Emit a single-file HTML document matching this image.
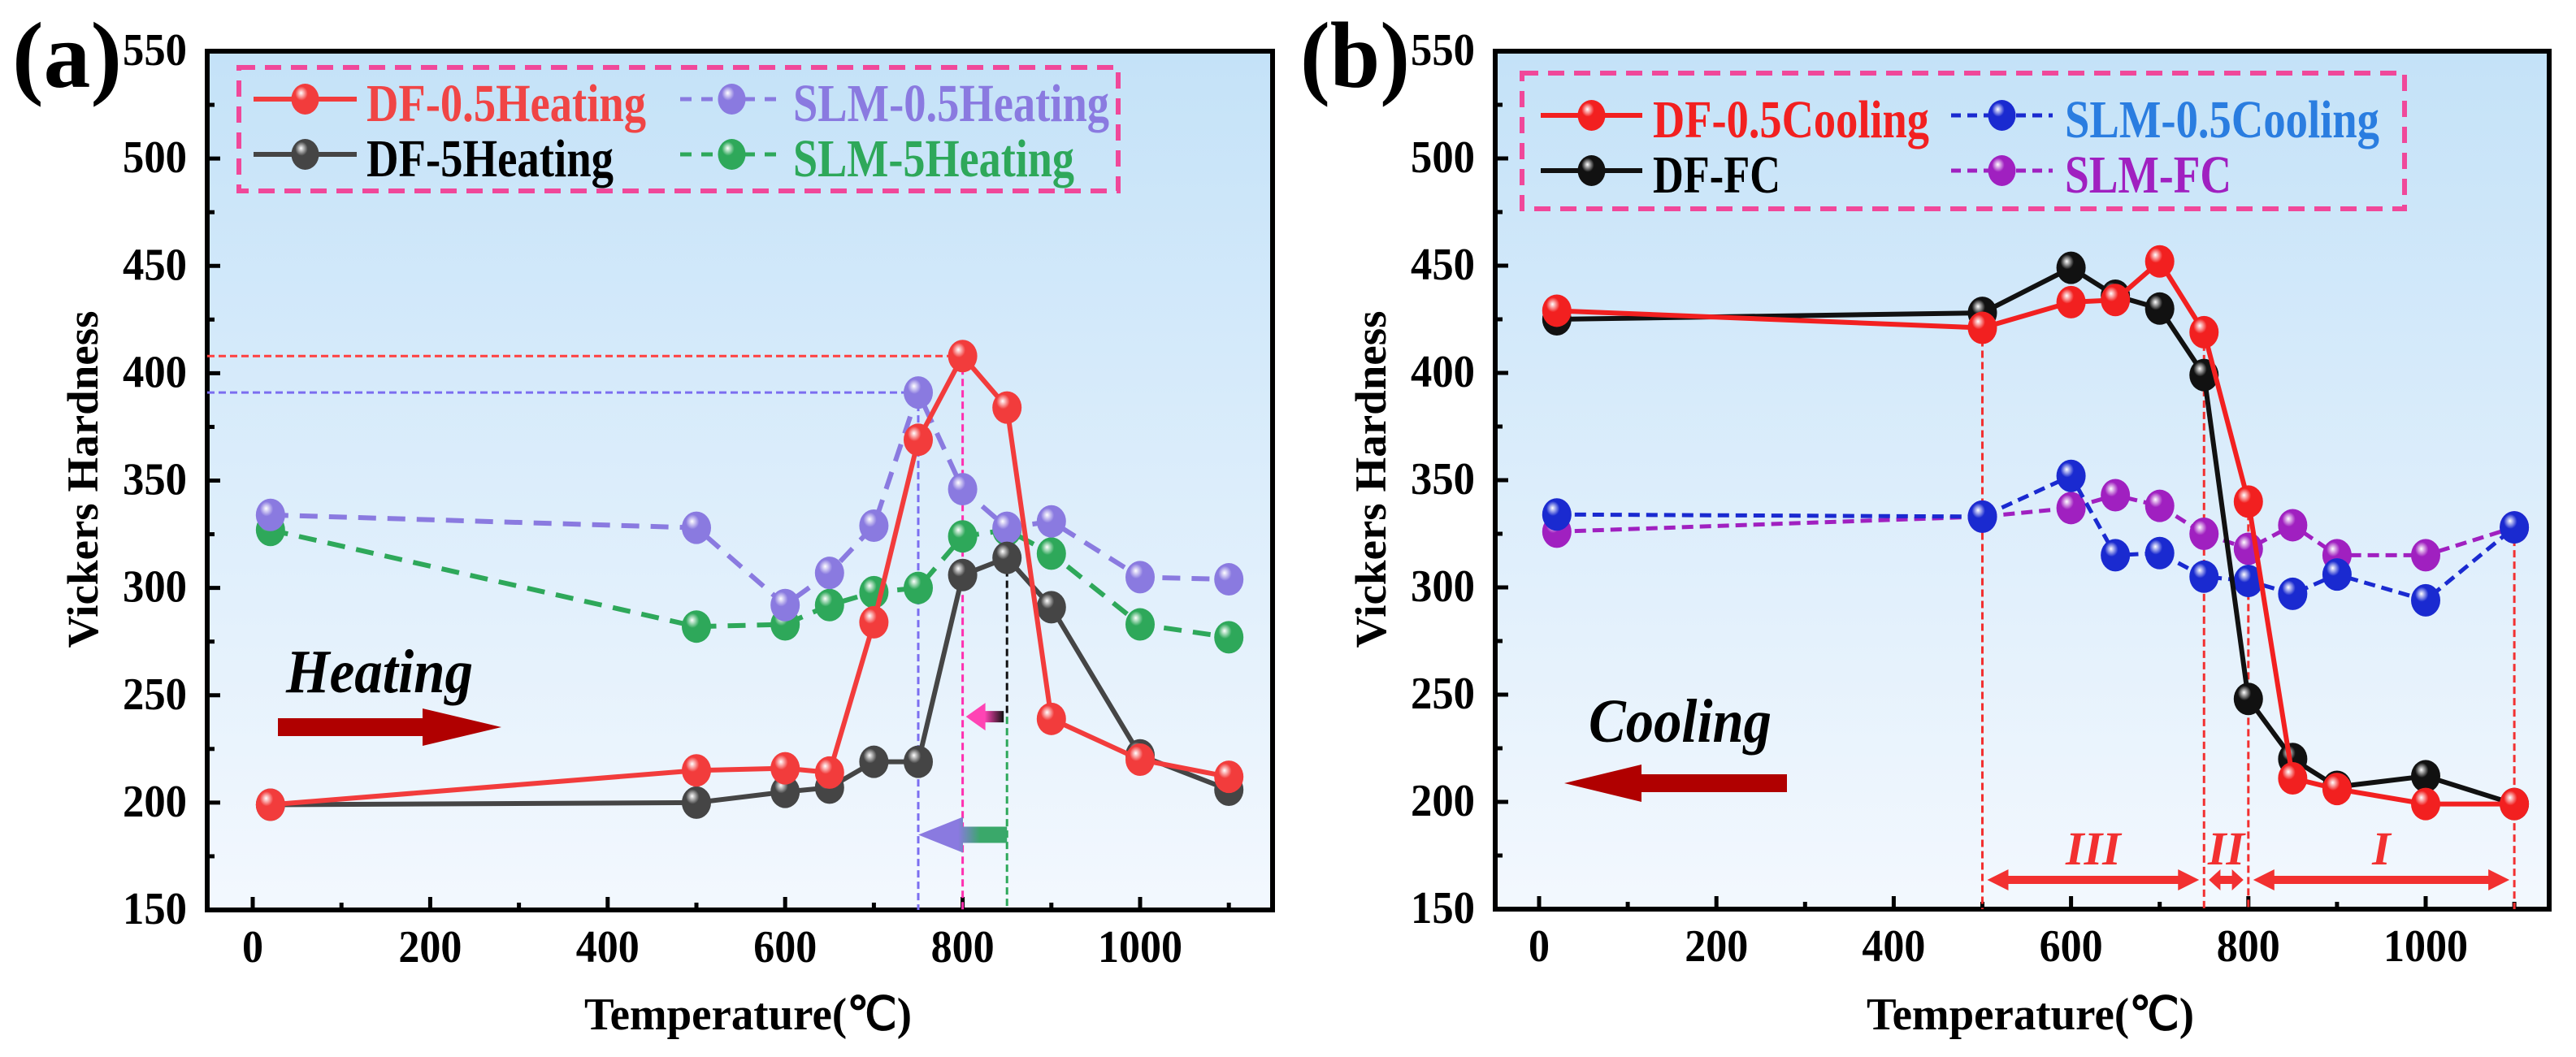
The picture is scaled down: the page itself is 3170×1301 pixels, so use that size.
<!DOCTYPE html>
<html><head><meta charset="utf-8"><style>
html,body{margin:0;padding:0;background:#fff;}
svg{display:block;font-family:"Liberation Serif",serif;font-weight:bold;}
</style></head><body>
<svg id="chart" width="3170" height="1301" viewBox="0 0 3170 1301" xmlns="http://www.w3.org/2000/svg">
<defs>
<linearGradient id="bg" x1="0" y1="0" x2="0" y2="1"><stop offset="0" stop-color="#c4e2f8"/><stop offset="1" stop-color="#f3f8fe"/></linearGradient>
<linearGradient id="gArrowA" x1="0" y1="0" x2="1" y2="0"><stop offset="0" stop-color="#8a7ae0"/><stop offset="0.45" stop-color="#8a7ae0"/><stop offset="0.7" stop-color="#3aa86a"/><stop offset="1" stop-color="#3aa86a"/></linearGradient>
<linearGradient id="pArrowA" x1="0" y1="0" x2="1" y2="0"><stop offset="0" stop-color="#ff44b4"/><stop offset="0.5" stop-color="#ff44b4"/><stop offset="1" stop-color="#111"/></linearGradient>
</defs>
<g id="panelA"></g>
<g id="panelB"></g>
</svg>
<script>
// ---------- DATA ----------
const temps = [20, 500, 600, 650, 700, 750, 800, 850, 900, 1000, 1100];
const xTicks = [0, 200, 400, 600, 800, 1000];
const yTicks = [150, 200, 250, 300, 350, 400, 450, 500, 550];
// Panel (a) heating
const df05Heating = [199, 215, 216, 214, 284, 369, 408, 384, 239, 220, 212];
const df5Heating = [199, 200, 205, 207, 219, 219, 306, 314, 291, 222, 206];
const slm05Heating = [334, 328, 292, 307, 329, 391, 346, 328, 331, 305, 304];
const slm5Heating = [327, 282, 283, 292, 298, 300, 324, 327, 316, 283, 277];
// Panel (b) cooling
const df05Cooling = [429, 421, 433, 434, 452, 419, 340, 211, 206, 199, 199];
const dfFC = [425, 428, 449, 436, 430, 399, 248, 220, 207, 212, 199];
const slm05Cooling = [334, 333, 352, 315, 316, 305, 303, 297, 306, 294, 328];
const slmFC = [326, 333, 337, 343, 338, 325, 318, 329, 315, 315, 328];
const labelsA = ["DF-0.5Heating", "SLM-0.5Heating", "DF-5Heating", "SLM-5Heating"];
const labelsB = ["DF-0.5Cooling", "SLM-0.5Cooling", "DF-FC", "SLM-FC"];
const regionBounds = [500, 750, 800, 1100];
const regionNames = ["III", "II", "I"];

const NS = "http://www.w3.org/2000/svg";
function mk(parent, tag, attrs, text){
  const e = document.createElementNS(NS, tag);
  for (const k in attrs) e.setAttribute(k, attrs[k]);
  if (text !== undefined) e.textContent = text;
  parent.appendChild(e);
  return e;
}
function squeeze(el, len){
  el.setAttribute("textLength", len);
  el.setAttribute("lengthAdjust", "spacingAndGlyphs");
}
let gradCount = 0;
function sphereGrad(color){
  const defs = document.querySelector("defs");
  const id = "sph" + (gradCount++);
  const g = mk(defs, "radialGradient", {id:id, cx:"0.4", cy:"0.35", r:"0.65", fx:"0.35", fy:"0.3"});
  mk(g, "stop", {offset:"0", "stop-color":"#ffffff"});
  mk(g, "stop", {offset:"0.35", "stop-color":color});
  mk(g, "stop", {offset:"1", "stop-color":color});
  return "url(#" + id + ")";
}

function buildPanel(g, P){
  const X = v => P.x0 + (v - 0) / 1000 * (P.x1000 - P.x0);
  const Y = v => P.bottom - (v - 150) / 400 * (P.bottom - P.top);
  P.X = X; P.Y = Y;
  const bg = mk(g, "rect", {x:P.left, y:P.top, width:P.right-P.left, height:P.bottom-P.top, fill:"url(#bg)"});
  
  
  xTicks.forEach(t => {
    const l = mk(g, "line", {x1:X(t), x2:X(t), y1:P.bottom, y2:P.bottom-16, stroke:"#000", "stroke-width":5});
    
    
    const m = mk(g, "line", {x1:X(t+100), x2:X(t+100), y1:P.bottom, y2:P.bottom-9, stroke:"#000", "stroke-width":5});
    
    
    const tx = mk(g, "text", {x:X(t), y:P.bottom+64, "text-anchor":"middle", "font-size":56}, String(t));
    squeeze(tx, String(t).length * 26);
    
    
  });
  yTicks.forEach(t => {
    const l = mk(g, "line", {x1:P.left, x2:P.left+16, y1:Y(t), y2:Y(t), stroke:"#000", "stroke-width":5});
    
    
    if (t < 550){
      const m = mk(g, "line", {x1:P.left, x2:P.left+9, y1:Y(t+25), y2:Y(t+25), stroke:"#000", "stroke-width":5});
      
      
    }
    const tx = mk(g, "text", {x:P.left-25, y:Y(t)+17, "text-anchor":"end", "font-size":56}, String(t));
    squeeze(tx, 79);
    
    
  });
  const fr = mk(g, "rect", {x:P.left, y:P.top, width:P.right-P.left, height:P.bottom-P.top, fill:"none", stroke:"#000", "stroke-width":6});
  
  
  const xt = mk(g, "text", {x:(P.left+P.right)/2+10, y:1267, "text-anchor":"middle", "font-size":56}, "Temperature(\u2103)");
  squeeze(xt, 403);
  
  
  const yt = mk(g, "text", {x:0, y:0, "text-anchor":"middle", "font-size":54, transform:"translate("+(P.left-135)+",590) rotate(-90)"}, "Vickers Hardness");
  squeeze(yt, 415);
  
  
  const pl = mk(g, "text", {x:P.left-240, y:107, "font-size":115}, P.panelLabel);
  squeeze(pl, 135);
  
  
}

function drawSeries(g, P, values, color, dash, width, name, errs){
  const pts = temps.map((t,i) => P.X(t) + "," + P.Y(values[i])).join(" ");
  const line = mk(g, "polyline", {points:pts, fill:"none", stroke:color, "stroke-width":width, "stroke-dasharray":dash || "none", "stroke-linejoin":"round"});
  
  
  const fill = sphereGrad(color);
  temps.forEach((t,i) => {
    const cx = P.X(t), cy = P.Y(values[i]);
    const e = errs ? errs : 6;
    const eb = mk(g, "path", {d:"M"+cx+","+(cy-e*2.6)+"V"+(cy+e*2.6)+"M"+(cx-12)+","+(cy-e*2.6)+"H"+(cx+12)+"M"+(cx-12)+","+(cy+e*2.6)+"H"+(cx+12), stroke:color, "stroke-width":4, fill:"none"});
    
    
    const c = mk(g, "ellipse", {cx:cx, cy:cy, rx:18, ry:20, fill:fill});
    
    
  });
}

function legend(g, box, rows, cols, lineW, textX, entries){
  const b = mk(g, "rect", {x:box[0], y:box[1], width:box[2], height:box[3], fill:"none", stroke:"#f0489a", "stroke-width":6, "stroke-dasharray":"20,12"});
  
  
  entries.forEach((en, k) => {
    const x = cols[k%2], y = rows[Math.floor(k/2)];
    const lg = mk(g, "g", {});
    
    
    mk(lg, "line", {x1:x, x2:x+lineW, y1:y, y2:y, stroke:en.color, "stroke-width":en.dash?5:6, "stroke-dasharray":en.dash||"none"});
    mk(lg, "ellipse", {cx:x+lineW/2, cy:y, rx:17, ry:19, fill:sphereGrad(en.color)});
    const t = mk(lg, "text", {x:textX[k%2], y:y+27, "font-size":66, fill:en.text}, en.label);
    squeeze(t, en.w);
  });
}

// ---------- PANEL A ----------
const gA = document.getElementById("panelA");
const PA = {left:255, right:1566, top:63, bottom:1120, x0:311, x1000:1403, panelLabel:"(a)"};
buildPanel(gA, PA);
(function(){
  const X = PA.X, Y = PA.Y;
  const ref = (d, c, n) => { const p = mk(gA, "path", {d:d, stroke:c, "stroke-width":3, "stroke-dasharray":"9,5", fill:"none"});   };
  ref("M"+PA.left+","+Y(df05Heating[6])+"H"+X(800), "#ff4040", "ref-line-df05-peak");
  ref("M"+PA.left+","+Y(slm05Heating[5])+"H"+X(750), "#7b6ef0", "ref-line-slm05-peak");
  ref("M"+X(750)+","+Y(slm05Heating[5])+"V"+PA.bottom, "#7b6ef0", "ref-vline-750");
  ref("M"+X(800)+","+Y(df05Heating[6])+"V"+PA.bottom, "#ff30b0", "ref-vline-800");
  ref("M"+X(850)+","+Y(df5Heating[7])+"V"+Y(240), "#111", "ref-vline-850-black");
  ref("M"+X(850)+","+Y(240)+"V"+PA.bottom, "#2ea85a", "ref-vline-850-green");
  const a1 = mk(gA, "path", {d:"M"+(X(850)-4)+","+(Y(240)-7)+"H"+(X(800)+28)+"V"+(Y(240)-17)+"L"+(X(800)+4)+","+Y(240)+"L"+(X(800)+28)+","+(Y(240)+17)+"V"+(Y(240)+7)+"H"+(X(850)-4)+"Z", fill:"url(#pArrowA)"});
  
  
  const a2 = mk(gA, "path", {d:"M"+X(850)+","+(Y(185)-10)+"H"+(X(750)+55)+"V"+(Y(185)-22)+"L"+X(750)+","+Y(185)+"L"+(X(750)+55)+","+(Y(185)+22)+"V"+(Y(185)+10)+"H"+X(850)+"Z", fill:"url(#gArrowA)"});
  
  
})();
drawSeries(gA, PA, slm5Heating, "#2ea85a", "22,14", 6, "slm-5-heating", 3);
drawSeries(gA, PA, slm05Heating, "#8a7ae0", "22,14", 6, "slm-05-heating", 3);
drawSeries(gA, PA, df5Heating, "#454545", null, 6, "df-5-heating", 3);
drawSeries(gA, PA, df05Heating, "#f23c3c", null, 6, "df-05-heating", 3);
legend(gA, [294, 83, 1082, 152], [122, 190], [312, 837], 127, [451, 976], [
  {label:labelsA[0], color:"#f23c3c", text:"#f04545", w:344},
  {label:labelsA[1], color:"#8a7ae0", dash:"14,12", text:"#8a7ae0", w:389},
  {label:labelsA[2], color:"#454545", text:"#000", w:304},
  {label:labelsA[3], color:"#2ea85a", dash:"14,12", text:"#2ea85a", w:346}
]);
(function(){
  const t = mk(gA, "text", {x:352, y:852, "font-size":76, "font-style":"italic"}, "Heating");
  squeeze(t, 230);
  
  
  const a = mk(gA, "path", {d:"M342,884H520V872L617,895L520,918V906H342Z", fill:"#b00000"});
  
  
})();

// ---------- PANEL B ----------
const gB = document.getElementById("panelB");
const PB = {left:1840, right:3137, top:63, bottom:1119, x0:1894, x1000:2985, panelLabel:"(b)"};
buildPanel(gB, PB);
(function(){
  const X = PB.X, Y = PB.Y;
  const tops = [df05Cooling[1], df05Cooling[5], df05Cooling[6], slm05Cooling[10]];
  regionBounds.forEach((t,i) => {
    const p = mk(gB, "path", {d:"M"+X(t)+","+Y(tops[i])+"V"+PB.bottom, stroke:"#f23030", "stroke-width":3, "stroke-dasharray":"9,5", fill:"none"});
    
    
  });
  const ay = 1083;
  for (let i=0;i<3;i++){
    const xa = X(regionBounds[i])+6, xb = X(regionBounds[i+1])-6;
    const h = Math.min(26, (xb-xa)/3);
    const p = mk(gB, "path", {d:"M"+xa+","+ay+"L"+(xa+h)+","+(ay-13)+"V"+(ay-5)+"H"+(xb-h)+"V"+(ay-13)+"L"+xb+","+ay+"L"+(xb-h)+","+(ay+13)+"V"+(ay+5)+"H"+(xa+h)+"V"+(ay+13)+"Z", fill:"#f23030"});
    
    
    const t = mk(gB, "text", {x:(xa+xb)/2, y:1064, "text-anchor":"middle", "font-size":58, "font-style":"italic", fill:"#f23030"}, regionNames[i]);
    
    
  }
})();
drawSeries(gB, PB, slmFC, "#a020c0", "14,8", 5, "slm-fc", 4);
drawSeries(gB, PB, slm05Cooling, "#1a2ad0", "14,8", 5, "slm-05-cooling", 3);
drawSeries(gB, PB, dfFC, "#111111", null, 6, "df-fc", 3);
drawSeries(gB, PB, df05Cooling, "#f22020", null, 6, "df-05-cooling", 3);
legend(gB, [1873, 90, 1086, 167], [142, 210], [1896, 2401], 125, [2034, 2541], [
  {label:labelsB[0], color:"#f22020", text:"#f22020", w:340},
  {label:labelsB[1], color:"#1a2ad0", dash:"12,8", text:"#2a7de0", w:387},
  {label:labelsB[2], color:"#111111", text:"#000", w:157},
  {label:labelsB[3], color:"#a020c0", dash:"12,8", text:"#a020c0", w:205}
]);
(function(){
  const t = mk(gB, "text", {x:1955, y:913, "font-size":76, "font-style":"italic"}, "Cooling");
  squeeze(t, 225);
  
  
  const a = mk(gB, "path", {d:"M2199,953H2020V941L1925,964L2020,987V975H2199Z", fill:"#b00000"});
  
  
})();
</script>
</body></html>
